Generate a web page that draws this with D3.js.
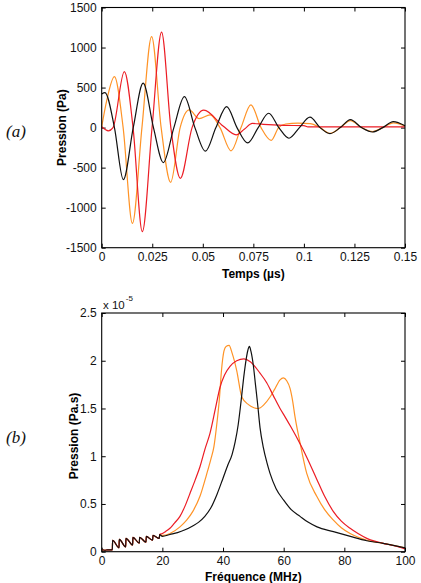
<!DOCTYPE html>
<html>
<head>
<meta charset="utf-8">
<script src="https://cdn.jsdelivr.net/npm/d3@7"></script>
<style>
html,body{margin:0;padding:0;background:#fff;}
svg{display:block;}
text{font-family:"Liberation Sans",Arial,sans-serif;}
</style>
</head>
<body>
<div id="chart"></div>
<script>
// ---------- DATA ----------
// Panel (a): time signals [time µs, pressure Pa]
const timeBlack = [
  [0,420],[0.0016,437],[0.0063,0],[0.0107,-650],[0.0156,0],[0.0205,555],[0.0256,0],[0.0305,-437],
  [0.0357,0],[0.0409,387],[0.0461,0],[0.0513,-295],[0.0565,0],[0.0618,262],[0.0669,0],[0.0722,-192],
  [0.0774,0],[0.0826,179],[0.0876,0],[0.0926,-133],[0.0978,0],[0.1030,130],[0.1080,0],[0.1129,-75],
  [0.1180,0],[0.1230,100],[0.1285,0],[0.1340,-55],[0.1390,0],[0.1442,75],[0.15,22]
];
const timeOrange = [
  [0,10],[0.0025,340],[0.0063,637],[0.0106,0],[0.0152,-1196],[0.0199,0],[0.0247,1137],[0.0294,0],
  [0.0341,-683],[0.0388,0],[0.0433,221],[0.0482,112],[0.0536,158],[0.0585,0],[0.0640,-290],[0.0689,0],
  [0.0738,284],[0.0788,0],[0.0838,-160],[0.0875,0],[0.0910,45],[0.0970,55],[0.1030,50],[0.1080,0],
  [0.1129,-72],[0.1180,0],[0.1230,88],[0.1285,0],[0.1340,-50],[0.1390,0],[0.1443,60],[0.15,20]
];
const timeRed = [
  [0,10],[0.0033,-40],[0.0056,0],[0.0112,700],[0.0155,0],[0.0201,-1300],[0.0249,0],[0.0296,1192],
  [0.0342,0],[0.0389,-633],[0.0447,0],[0.0505,218],[0.0600,20],[0.0665,-90],[0.0705,-20],[0.0745,52],
  [0.0800,40],[0.0900,28],[0.1000,25],[0.1020,10],[0.15,10]
];
const timeTicks = [0,0.025,0.05,0.075,0.1,0.125,0.15];
const timeTickLabels = ["0","0.025","0.05","0.075","0.1","0.125","0.15"];
const pressureTicks = [-1500,-1000,-500,0,500,1000,1500];

// Panel (b): spectra [frequency MHz, amplitude ×1e-5 Pa.s]
const lowBand = [
  [0,0.02],[1,0.015],[2,0.02],[3.5,0.02],[3.6,0.12],[5.7,0.04],[5.8,0.13],[7.9,0.05],[8.0,0.14],
  [10.2,0.07],[10.3,0.15],[12.4,0.09],[12.5,0.15],[14.6,0.1],[14.7,0.16],[16.8,0.12],[16.9,0.17],
  [19.0,0.14],[19.1,0.18]
];
const freqBlack = [
  [20,0.16],[22.5,0.18],[25,0.2],[27.5,0.23],[30,0.27],[32,0.31],[34,0.37],[36,0.46],[38,0.6],
  [40,0.77],[41.5,0.9],[43,1.02],[44,1.15],[45,1.33],[46,1.59],[46.8,1.82],[47.6,2.01],[48.2,2.11],
  [48.7,2.15],[49.2,2.1],[50,1.95],[50.7,1.75],[51.4,1.55],[52.2,1.3],[53.3,1.09],[54.5,0.93],
  [55.5,0.82],[57.5,0.66],[60,0.54],[62.5,0.44],[65.4,0.37],[68,0.31],[71,0.26],[76.4,0.21],
  [82,0.16],[87.4,0.115],[92.8,0.088],[100,0.04]
];
const freqOrange = [
  [20,0.17],[22.5,0.19],[25.8,0.26],[28,0.33],[30,0.42],[32.4,0.58],[34.5,0.8],[36,0.97],
  [37,1.1],[38,1.35],[38.8,1.6],[39.5,1.9],[40.3,2.1],[41,2.15],[42,2.16],[43,2.08],[44.5,1.9],
  [46.2,1.62],[48.4,1.54],[50,1.51],[51.6,1.5],[53.5,1.54],[55.5,1.62],[57,1.7],[58.8,1.8],
  [59.9,1.82],[61,1.79],[62.1,1.71],[63,1.57],[63.7,1.42],[65.4,1.14],[67.6,0.82],[70.9,0.58],
  [73.5,0.44],[76.4,0.33],[79,0.25],[81.9,0.19],[87.4,0.12],[92.8,0.088],[100,0.04]
];
const freqRed = [
  [20,0.19],[21,0.21],[22.5,0.245],[24,0.3],[25.8,0.37],[27.5,0.48],[29.1,0.61],[30.8,0.75],
  [32.4,0.89],[34.1,1.08],[35.7,1.24],[37.5,1.5],[39,1.72],[40.5,1.85],[42.3,1.94],[44.5,2.0],
  [46.9,2.02],[49,1.99],[52.2,1.87],[54.4,1.77],[56.5,1.64],[58.8,1.5],[60.5,1.41],[62.5,1.3],
  [65.4,1.13],[67.6,0.99],[70.9,0.76],[73.5,0.58],[76.4,0.42],[79,0.32],[81.9,0.245],[84.5,0.19],
  [87.4,0.14],[90,0.11],[92.8,0.088],[96,0.065],[100,0.03]
];
const freqTicks = [0,20,40,60,80,100];
const ampTicks = [0,0.5,1,1.5,2,2.5];
const ampTickLabels = ["0","0.5","1","1.5","2","2.5"];

const colors = {black:"#111111", orange:"#ff9326", red:"#ec1c24"};

// ---------- DRAW ----------
const W = 421, H = 583;
const svg = d3.select("#chart").append("svg").attr("width", W).attr("height", H)
  .style("background","#fff");

function panel(opts){
  const g = svg.append("g");
  const x = d3.scaleLinear().domain(opts.xDomain).range([opts.left, opts.right]);
  const y = d3.scaleLinear().domain(opts.yDomain).range([opts.bottom, opts.top]);
  const tick = 4;
  const ax = d3.axisBottom(x).tickValues(opts.xTicks).tickSizeInner(-tick).tickSizeOuter(0)
    .tickPadding(5).tickFormat((d,i)=>opts.xLabels[i]);
  g.append("g").attr("transform",`translate(0,${opts.bottom})`).call(ax);
  g.append("g").attr("transform",`translate(0,${opts.top})`)
    .call(d3.axisTop(x).tickValues(opts.xTicks).tickSizeInner(-tick).tickSizeOuter(0).tickFormat(""));
  const ay = d3.axisLeft(y).tickValues(opts.yTicks).tickSizeInner(-tick).tickSizeOuter(0)
    .tickPadding(5).tickFormat((d,i)=>opts.yLabels[i]);
  g.append("g").attr("transform",`translate(${opts.left},0)`).call(ay);
  g.append("g").attr("transform",`translate(${opts.right},0)`)
    .call(d3.axisRight(y).tickValues(opts.yTicks).tickSizeInner(-tick).tickSizeOuter(0).tickFormat(""));
  g.selectAll(".domain").remove();
  g.selectAll(".tick line").attr("stroke","#000").attr("stroke-width",1);
  g.selectAll(".tick text").attr("font-size",12).attr("fill","#111")
    .style("font-family","'Liberation Sans',Arial,sans-serif");

  const line = d3.line().x(d=>x(d[0])).y(d=>y(d[1])).curve(d3.curveMonotoneX);
  opts.series.forEach(s=>{
    g.append("path").datum(s.data).attr("d",line).attr("fill","none")
      .attr("stroke",s.color).attr("stroke-width",1.2).attr("stroke-linejoin","round");
  });
  g.append("rect").attr("x",opts.left).attr("y",opts.top)
    .attr("width",opts.right-opts.left).attr("height",opts.bottom-opts.top)
    .attr("fill","none").attr("stroke","#000").attr("stroke-width",1.1);
  g.append("text").attr("x",(opts.left+opts.right)/2).attr("y",opts.xTitleY)
    .attr("text-anchor","middle").attr("dominant-baseline","central")
    .attr("font-size",12).attr("font-weight","bold").text(opts.xTitle);
  g.append("text").attr("transform",`translate(${opts.yTitleX},${opts.yTitleCY}) rotate(-90)`)
    .attr("text-anchor","middle").attr("dominant-baseline","central")
    .attr("font-size",12).attr("font-weight","bold").text(opts.yTitle);
  g.append("text").attr("x",6).attr("y",opts.letterY).attr("dominant-baseline","central")
    .style("font-family","'Liberation Serif','Times New Roman',serif")
    .attr("font-style","italic").attr("font-size",17).attr("fill","#111").text(opts.letter);
  return {x,y,g};
}

panel({
  left:101.7, right:405, top:7.5, bottom:247.7,
  xDomain:[0,0.15], yDomain:[-1500,1500],
  xTicks:timeTicks, xLabels:timeTickLabels,
  yTicks:pressureTicks, yLabels:pressureTicks.map(String),
  series:[{data:timeOrange,color:colors.orange},{data:timeRed,color:colors.red},{data:timeBlack,color:colors.black}],
  xTitle:"Temps (µs)", xTitleY:274,
  yTitle:"Pression (Pa)", yTitleX:62, yTitleCY:127.6,
  letter:"(a)", letterY:131
});

const pb = panel({
  left:101.7, right:405, top:313, bottom:551.7,
  xDomain:[0,100], yDomain:[0,2.5],
  xTicks:freqTicks, xLabels:freqTicks.map(String),
  yTicks:ampTicks, yLabels:ampTickLabels,
  series:[{data:lowBand.concat(freqOrange),color:colors.orange},
          {data:lowBand.concat(freqRed),color:colors.red},
          {data:lowBand.concat(freqBlack),color:colors.black}],
  xTitle:"Fréquence (MHz)", xTitleY:577,
  yTitle:"Pression (Pa.s)", yTitleX:74, yTitleCY:436,
  letter:"(b)", letterY:437
});

const expo = pb.g.append("text").attr("x",103).attr("y",309).attr("font-size",11.5).attr("fill","#111");
expo.append("tspan").text("x 10");
expo.append("tspan").attr("dy",-8).attr("dx",1).attr("font-size",8).text("-5");
</script>
</body>
</html>
